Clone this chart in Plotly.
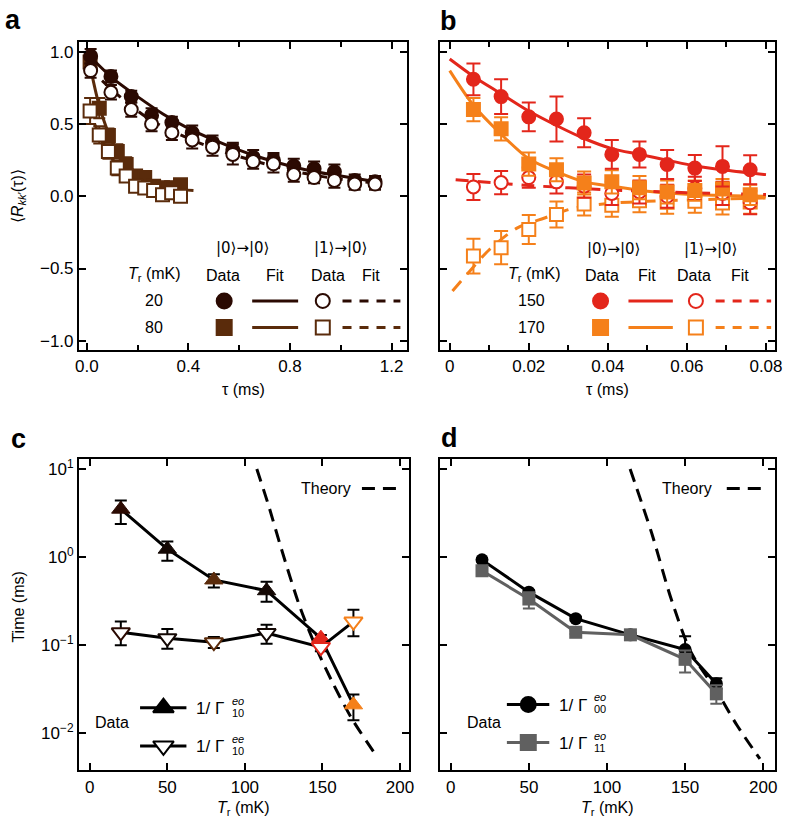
import plotly.graph_objects as go

W, H = 788, 825
FONT = "Liberation Sans, Arial, Helvetica, sans-serif"

# ---------------- colours ----------------
C20 = "#2b0a02"
C80 = "#5a2b0b"
C150 = "#e3261b"
C170 = "#f5801a"
GRAY = "#606060"

# ---------------- panel a data ----------------
tau_a20 = [0.015, 0.095, 0.175, 0.255, 0.335, 0.415, 0.495, 0.575, 0.655, 0.735, 0.815, 0.895, 0.975, 1.055, 1.135]
r00_a20 = [0.97, 0.83, 0.69, 0.56, 0.51, 0.44, 0.37, 0.32, 0.27, 0.25, 0.21, 0.19, 0.17, 0.11, 0.10]
e00_a20 = [0.05, 0.04, 0.04, 0.05, 0.04, 0.05, 0.05, 0.05, 0.05, 0.05, 0.05, 0.05, 0.05, 0.04, 0.04]
r10_a20 = [0.87, 0.72, 0.60, 0.50, 0.44, 0.39, 0.34, 0.29, 0.24, 0.225, 0.15, 0.13, 0.11, 0.085, 0.085]
e10_a20 = [0.05, 0.05, 0.05, 0.05, 0.05, 0.06, 0.06, 0.07, 0.05, 0.06, 0.05, 0.04, 0.05, 0.04, 0.04]
fit00_t_a20 = [0.0, 0.1, 0.2, 0.3, 0.4, 0.5, 0.6, 0.7, 0.8, 0.9, 1.0, 1.14]
fit00_v_a20 = [0.99, 0.82, 0.69, 0.57, 0.47, 0.39, 0.32, 0.26, 0.21, 0.17, 0.14, 0.10]
fit10_t_a20 = [0.06, 0.15, 0.25, 0.35, 0.5, 0.65, 0.8, 0.95, 1.14]
fit10_v_a20 = [0.80, 0.66, 0.53, 0.44, 0.33, 0.25, 0.18, 0.13, 0.09]

tau_a80 = [0.013, 0.049, 0.085, 0.12, 0.155, 0.192, 0.228, 0.263, 0.298, 0.334, 0.369]
r00_a80 = [0.93, 0.61, 0.42, 0.31, 0.22, 0.14, 0.13, 0.07, 0.06, 0.06, 0.08]
e00_a80 = [0.06, 0.07, 0.05, 0.05, 0.05, 0.04, 0.04, 0.04, 0.04, 0.04, 0.04]
r10_a80 = [0.59, 0.425, 0.31, 0.195, 0.14, 0.07, 0.057, 0.04, 0.01, 0.025, 0.0]
e10_a80 = [0.09, 0.06, 0.05, 0.05, 0.04, 0.04, 0.04, 0.04, 0.04, 0.04, 0.04]
fit00_t_a80 = [0.005, 0.05, 0.1, 0.15, 0.2, 0.25, 0.3, 0.42]
fit00_v_a80 = [0.97, 0.62, 0.38, 0.24, 0.15, 0.09, 0.06, 0.04]
fit10_t_a80 = [0.01, 0.05, 0.1, 0.15, 0.2, 0.25, 0.3, 0.37]
fit10_v_a80 = [0.60, 0.42, 0.26, 0.15, 0.08, 0.04, 0.02, 0.01]

# ---------------- panel b data ----------------
tau_b = [0.006, 0.013, 0.020, 0.027, 0.034, 0.041, 0.048, 0.055, 0.062, 0.069, 0.076]
r00_b150 = [0.81, 0.69, 0.55, 0.535, 0.44, 0.29, 0.29, 0.22, 0.195, 0.207, 0.184]
e00_b150 = [0.11, 0.12, 0.10, 0.155, 0.10, 0.10, 0.09, 0.10, 0.09, 0.14, 0.10]
r10_b150 = [0.065, 0.095, 0.13, 0.10, 0.07, 0.02, 0.03, 0.0, 0.055, 0.02, -0.045]
e10_b150 = [0.09, 0.08, 0.07, 0.08, 0.08, 0.08, 0.08, 0.08, 0.08, 0.08, 0.08]
r00_b170 = [0.60, 0.467, 0.223, 0.184, 0.092, 0.10, 0.06, 0.03, 0.04, 0.05, 0.01]
e00_b170 = [0.08, 0.08, 0.08, 0.08, 0.08, 0.08, 0.08, 0.08, 0.07, 0.07, 0.07]
r10_b170 = [-0.414, -0.356, -0.23, -0.126, -0.053, -0.062, -0.03, -0.041, -0.034, -0.046, -0.04]
e10_b170 = [0.12, 0.115, 0.10, 0.09, 0.08, 0.08, 0.08, 0.08, 0.08, 0.08, 0.08]
fit00_t_b150 = [0.0, 0.006, 0.013, 0.02, 0.027, 0.034, 0.041, 0.048, 0.055, 0.062, 0.07, 0.08]
fit00_v_b150 = [0.95, 0.83, 0.71, 0.59, 0.49, 0.40, 0.33, 0.29, 0.25, 0.21, 0.18, 0.15]
fit10_t_b150 = [0.0015, 0.02, 0.04, 0.06, 0.08]
fit10_v_b150 = [0.115, 0.075, 0.045, 0.025, 0.012]
fit00_t_b170 = [0.0, 0.006, 0.013, 0.02, 0.027, 0.034, 0.041, 0.05, 0.06, 0.07, 0.08]
fit00_v_b170 = [0.87, 0.63, 0.43, 0.26, 0.17, 0.10, 0.07, 0.035, 0.015, 0.005, 0.0]
fit10_t_b170 = [0.0007, 0.005, 0.01, 0.017, 0.024, 0.031, 0.04, 0.05, 0.065, 0.08]
fit10_v_b170 = [-0.655, -0.52, -0.37, -0.22, -0.15, -0.085, -0.05, -0.035, -0.022, -0.012]

# ---------------- panel c data ----------------
T_c = [20, 50, 80, 114, 149, 170]
c_colors = [C20, "#140804", C80, "#140804", C150, C170]
inv_eo10 = [3.5, 1.23, 0.55, 0.415, 0.12, 0.021]
inv_eo10_hi = [4.4, 1.5, 0.64, 0.525, 0.13, 0.0276]
inv_eo10_lo = [2.37, 0.91, 0.45, 0.31, 0.105, 0.014]
inv_ee10 = [0.14, 0.12, 0.108, 0.137, 0.095, 0.185]
inv_ee10_hi = [0.185, 0.153, 0.124, 0.17, 0.105, 0.253]
inv_ee10_lo = [0.10, 0.091, 0.093, 0.104, 0.085, 0.126]
theory_T_c = [107.7, 115, 123.6, 135.2, 145.8, 156.4, 169, 182.9]
theory_v_c = [10.0, 4.0, 1.23, 0.28, 0.095, 0.038, 0.0146, 0.0062]

# ---------------- panel d data ----------------
T_d = [20, 50, 80, 115, 150, 170]
inv_eo00 = [0.93, 0.40, 0.20, 0.131, 0.089, 0.0365]
inv_eo00_hi = [0.97, 0.42, 0.21, 0.137, 0.126, 0.042]
inv_eo00_lo = [0.89, 0.38, 0.19, 0.125, 0.065, 0.032]
inv_eo11 = [0.70, 0.334, 0.14, 0.131, 0.069, 0.028]
inv_eo11_hi = [0.73, 0.40, 0.146, 0.137, 0.087, 0.035]
inv_eo11_lo = [0.67, 0.26, 0.134, 0.125, 0.049, 0.0216]
theory_T_d = [114.8, 128.5, 141.1, 153.8, 170.5, 183.2, 197.9]
theory_v_d = [10.0, 1.9, 0.334, 0.083, 0.0295, 0.0123, 0.0051]

# tick labels
ticks_a_x = [0, 0.4, 0.8, 1.2]
ticklabels_a_x = ["0.0", "0.4", "0.8", "1.2"]
ticks_ab_y = [-1, -0.5, 0, 0.5, 1]
ticklabels_ab_y = ["−1.0", "−0.5", "0.0", "0.5", "1.0"]
ticks_b_x = [0, 0.02, 0.04, 0.06, 0.08]
ticklabels_b_x = ["0", "0.02", "0.04", "0.06", "0.08"]
ticks_cd_x = [0, 50, 100, 150, 200]
log_tickvals = [0.01, 0.1, 1, 10]
log_ticktext = ["10<sup>−2</sup>", "10<sup>−1</sup>", "10<sup>0</sup>", "10<sup>1</sup>"]


def px(x):
    return x / W


def py(y):
    return 1 - y / H


def diff(a, b):
    return [round(p - q, 5) for p, q in zip(a, b)]


fig = go.Figure()


def err(arr, color, width=5, minus=None):
    d = dict(type="data", array=arr, color=color, thickness=2, width=width, visible=True)
    if minus is not None:
        d["arrayminus"] = minus
        d["symmetric"] = False
    return d


def add_line(x, y, color, dash=None, xa="x", ya="y", width=3):
    fig.add_trace(go.Scatter(x=x, y=y, mode="lines", xaxis=xa, yaxis=ya,
                             line=dict(color=color, width=width, dash=dash, shape="spline", smoothing=0.8),
                             showlegend=False, hoverinfo="skip"))


def add_pts(x, y, e, color, symbol, filled, xa="x", ya="y", size=13, ew=6):
    fig.add_trace(go.Scatter(x=x, y=y, mode="markers", xaxis=xa, yaxis=ya,
                             error_y=err(e, color, ew),
                             marker=dict(symbol=symbol, size=size,
                                         color=color if filled else "white",
                                         line=dict(color=color, width=2)),
                             showlegend=False))


# ---- panel a ----
add_line(fit00_t_a80, fit00_v_a80, C80)
add_line(fit10_t_a80, fit10_v_a80, C80, dash="9px,7px")
add_pts(tau_a80, r00_a80, e00_a80, C80, "square", True)
add_pts(tau_a80, r10_a80, e10_a80, C80, "square", False)
add_line(fit00_t_a20, fit00_v_a20, C20)
add_line(fit10_t_a20, fit10_v_a20, C20, dash="9px,7px")
add_pts(tau_a20, r00_a20, e00_a20, C20, "circle", True)
add_pts(tau_a20, r10_a20, e10_a20, C20, "circle", False)

# ---- panel b ----
add_line(fit00_t_b170, fit00_v_b170, C170, xa="x2", ya="y2")
add_line(fit10_t_b170, fit10_v_b170, C170, dash="13px,9px", xa="x2", ya="y2")
add_line(fit00_t_b150, fit00_v_b150, C150, xa="x2", ya="y2")
add_line(fit10_t_b150, fit10_v_b150, C150, dash="13px,9px", xa="x2", ya="y2")
add_pts(tau_b, r10_b170, e10_b170, C170, "square", False, "x2", "y2", ew=7)
add_pts(tau_b, r10_b150, e10_b150, C150, "circle", False, "x2", "y2", ew=7)
add_pts(tau_b, r00_b170, e00_b170, C170, "square", True, "x2", "y2", ew=7)
add_pts(tau_b, r00_b150, e00_b150, C150, "circle", True, "x2", "y2", ew=7)

# ---- panel c ----
add_line(theory_T_c, theory_v_c, "black", dash="13px,8px", xa="x3", ya="y3")
fig.add_trace(go.Scatter(x=T_c, y=inv_eo10, mode="lines+markers", xaxis="x3", yaxis="y3",
                         line=dict(color="black", width=3),
                         error_y=err(diff(inv_eo10_hi, inv_eo10), "black", 6, diff(inv_eo10, inv_eo10_lo)),
                         marker=dict(symbol="triangle-up", size=16, color=c_colors,
                                     line=dict(color=c_colors, width=1)),
                         showlegend=False))
fig.add_trace(go.Scatter(x=T_c, y=inv_ee10, mode="lines+markers", xaxis="x3", yaxis="y3",
                         line=dict(color="black", width=3),
                         error_y=err(diff(inv_ee10_hi, inv_ee10), "black", 6, diff(inv_ee10, inv_ee10_lo)),
                         marker=dict(symbol="triangle-down", size=16, color="white",
                                     line=dict(color=c_colors, width=2)),
                         showlegend=False))

# ---- panel d ----
add_line(theory_T_d, theory_v_d, "black", dash="13px,8px", xa="x4", ya="y4")
fig.add_trace(go.Scatter(x=T_d, y=inv_eo00, mode="lines+markers", xaxis="x4", yaxis="y4",
                         line=dict(color="black", width=3),
                         error_y=err(diff(inv_eo00_hi, inv_eo00), "black", 6, diff(inv_eo00, inv_eo00_lo)),
                         marker=dict(symbol="circle", size=13, color="black"),
                         showlegend=False))
fig.add_trace(go.Scatter(x=T_d, y=inv_eo11, mode="lines+markers", xaxis="x4", yaxis="y4",
                         line=dict(color=GRAY, width=3),
                         error_y=err(diff(inv_eo11_hi, inv_eo11), GRAY, 6, diff(inv_eo11, inv_eo11_lo)),
                         marker=dict(symbol="square", size=13, color=GRAY),
                         showlegend=False))

# ---- legend glyphs on a full-figure pixel overlay axis ----
def glyph_line(x0, x1, y, color, dash=None, width=3):
    fig.add_trace(go.Scatter(x=[x0, x1], y=[y, y], mode="lines", xaxis="x5", yaxis="y5",
                             line=dict(color=color, width=width, dash=dash),
                             showlegend=False, hoverinfo="skip"))


def glyph_marker(x, y, color, symbol, filled, size=12):
    fig.add_trace(go.Scatter(x=[x], y=[y], mode="markers", xaxis="x5", yaxis="y5",
                             marker=dict(symbol=symbol, size=size,
                                         color=color if filled else "white",
                                         line=dict(color=color, width=2)),
                             showlegend=False, hoverinfo="skip"))


# panel a legend rows
for yy, col, sym in [(300, C20, "circle"), (326.7, C80, "square")]:
    glyph_marker(223.3, yy, col, sym, True, 15)
    glyph_line(251.7, 298.3, yy, col)
    glyph_marker(323.3, yy, col, sym, False, 14)
    glyph_line(343.3, 402, yy, col, dash="9px,8px")
# panel b legend rows
for yy, col, sym in [(300, C150, "circle"), (326.7, C170, "square")]:
    glyph_marker(605, yy, col, sym, True, 15)
    glyph_line(633.3, 678.3, yy, col)
    glyph_marker(701.7, yy, col, sym, False, 14)
    glyph_line(721.7, 778, yy, col, dash="9px,8px")
# panel c legend
glyph_line(138, 185, 708.3, "black")
glyph_marker(161.7, 708.3, "black", "triangle-up", True, 18)
glyph_line(138, 185, 746.7, "black")
glyph_marker(161.7, 746.7, "black", "triangle-down", False, 18)
glyph_line(363, 400, 488.3, "black", dash="13px,8px")
# panel d legend
glyph_line(510, 553, 705, "black")
glyph_marker(531.7, 705, "black", "circle", True, 15)
glyph_line(510, 553, 743.3, GRAY)
glyph_marker(531.7, 743.3, GRAY, "square", True, 15)
glyph_line(733, 770, 488.3, "black", dash="13px,8px")

# ---------------- axes ----------------
common = dict(showline=True, linecolor="black", linewidth=2, mirror="ticks", ticks="inside",
              ticklen=7, tickwidth=2, tickcolor="black", showgrid=False, zeroline=False,
              tickfont=dict(family=FONT, size=17, color="black"))
minor_in = dict(ticks="inside", ticklen=5, tickwidth=2, tickcolor="black")

ya_dom = [py(349), py(40)]
yc_dom = [py(771), py(459)]
fig.update_layout(
    xaxis=dict(domain=[px(76), px(409)], range=[-0.031, 1.262], anchor="y",
               tickvals=ticks_a_x, ticktext=ticklabels_a_x,
               minor=dict(tickvals=[0.2, 0.6, 1.0], **minor_in), **common),
    yaxis=dict(domain=ya_dom, range=[-1.062, 1.069], anchor="x",
               tickvals=ticks_ab_y, ticktext=ticklabels_ab_y, **common),
    xaxis2=dict(domain=[px(442), px(782)], range=[-0.0025, 0.0823], anchor="y2",
                tickvals=ticks_b_x, ticktext=ticklabels_b_x,
                minor=dict(tickvals=[0.01, 0.03, 0.05, 0.07], **minor_in), **common),
    yaxis2=dict(domain=ya_dom, range=[-1.062, 1.069], anchor="x2",
                tickvals=ticks_ab_y, showticklabels=False, **common),
    xaxis3=dict(domain=[px(76), px(411)], range=[-7, 206], anchor="y3",
                tickvals=ticks_cd_x, **common),
    yaxis3=dict(domain=yc_dom, type="log", range=[-2.42, 1.11], anchor="x3",
                tickvals=log_tickvals, ticktext=log_ticktext, **common),
    xaxis4=dict(domain=[px(442), px(782)], range=[-7, 207.6], anchor="y4",
                tickvals=ticks_cd_x, **common),
    yaxis4=dict(domain=yc_dom, type="log", range=[-2.42, 1.11], anchor="x4",
                tickvals=log_tickvals, showticklabels=False, **common),
    xaxis5=dict(domain=[0, 1], range=[0, W], anchor="y5", visible=False, fixedrange=True),
    yaxis5=dict(domain=[0, 1], range=[H, 0], anchor="x5", visible=False, fixedrange=True),
)

# ---------------- annotations ----------------
ann = []


def text(x, y, s, size=16, bold=False, angle=0, xanchor="center", italic=False, family=FONT):
    if italic:
        s = "<i>" + s + "</i>"
    if bold:
        s = "<b>" + s + "</b>"
    ann.append(dict(x=px(x), y=py(y), xref="paper", yref="paper", text=s,
                    showarrow=False, xanchor=xanchor, yanchor="middle", textangle=angle,
                    font=dict(family=family, size=size, color="black")))


# panel letters
text(9, 18, "a", 27, bold=True)
text(451, 19, "b", 27, bold=True)
text(15, 439, "c", 27, bold=True)
text(452, 438, "d", 27, bold=True)

# axis titles
text(14, 195, "⟨<i>R</i><sub><i>kk</i>′</sub>(τ)⟩", 16, angle=-90)
text(243, 389, "τ (ms)", 16)
text(612, 389, "τ (ms)", 16)
text(15, 607, "Time (ms)", 16, angle=-90)
text(243, 809, "<i>T</i><sub>r</sub> (mK)", 16)
text(612, 809, "<i>T</i><sub>r</sub> (mK)", 16)

KET = "DejaVu Sans, " + FONT
# panel a legend text
text(241.7, 247, "|0⟩→|0⟩", 15, family=KET)
text(341.7, 247, "|1⟩→|0⟩", 15, family=KET)
text(153, 273, "<i>T</i><sub>r</sub> (mK)", 16)
text(221.7, 274, "Data", 16)
text(275, 274, "Fit", 16)
text(328.3, 274, "Data", 16)
text(371.7, 274, "Fit", 16)
text(151.7, 300, "20", 16)
text(151.7, 327, "80", 16)
# panel b legend text
text(618.3, 248, "|0⟩→|0⟩", 15, family=KET)
text(716.7, 248, "|1⟩→|0⟩", 15, family=KET)
text(538.3, 273, "<i>T</i><sub>r</sub> (mK)", 16)
text(606, 274, "Data", 16)
text(651.7, 274, "Fit", 16)
text(700, 274, "Data", 16)
text(746.7, 274, "Fit", 16)
text(535, 300, "150", 16)
text(535, 327, "170", 16)

# panel c legend text
text(326.7, 488.3, "Theory", 16)
text(110, 723, "Data", 16)
for yy, sup in [(708.3, "eo"), (746.7, "ee")]:
    text(193, yy + 1, "1/ Γ", 17, xanchor="left")
    text(229, yy - 7, sup, 11, xanchor="left", italic=True)
    text(229, yy + 5, "10", 11, xanchor="left")

# panel d legend text
text(693, 488.3, "Theory", 16)
text(486.7, 723, "Data", 16)
for yy, sub in [(705, "00"), (743.3, "11")]:
    text(561, yy + 1, "1/ Γ", 17, xanchor="left")
    text(596, yy - 7, "eo", 11, xanchor="left", italic=True)
    text(596, yy + 5, sub, 11, xanchor="left")

fig.update_layout(
    width=W, height=H, margin=dict(l=0, r=0, t=0, b=0),
    paper_bgcolor="white", plot_bgcolor="rgba(0,0,0,0)", showlegend=False,
    annotations=ann, font=dict(family=FONT, color="black"),
)

fig.write_html("out.html", config={"displayModeBar": False},
               post_script="document.body.style.margin='0';document.body.style.overflow='hidden';")
